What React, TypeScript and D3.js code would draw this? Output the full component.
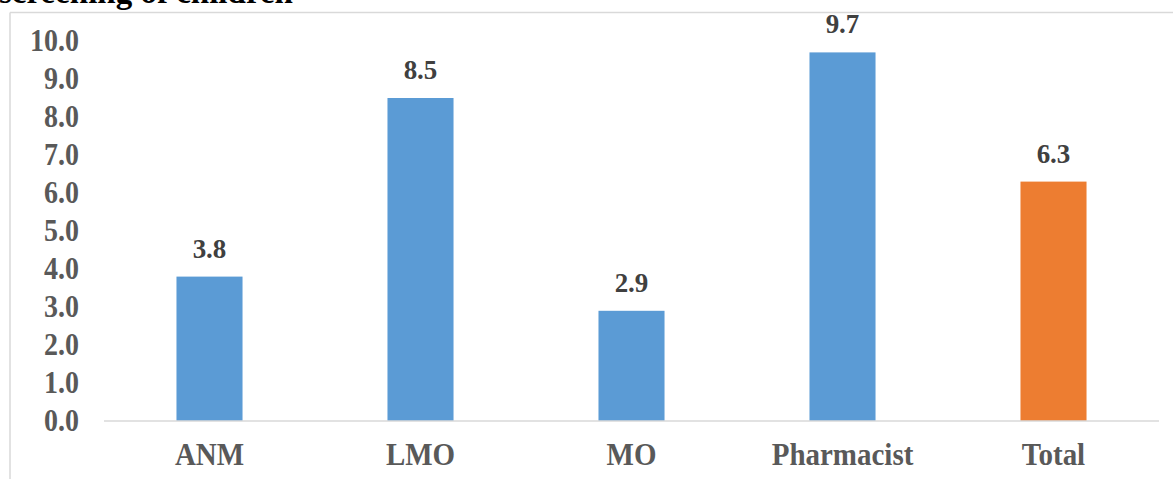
import React from "react";
import * as d3 from "d3";

const categories: string[] = ["ANM", "LMO", "MO", "Pharmacist", "Total"];
const values: number[] = [3.8, 8.5, 2.9, 9.7, 6.3];
const barColors: string[] = ["#5B9BD5", "#5B9BD5", "#5B9BD5", "#5B9BD5", "#ED7D31"];
const yTicks: number[] = [0, 1, 2, 3, 4, 5, 6, 7, 8, 9, 10];
const titleText = "screening of children";

const W = 1173;
const H = 479;
const plotLeft = 104;
const plotRight = 1159;
const plotTop = 41;
const plotBottom = 421;
const serif = "'Liberation Serif', 'Times New Roman', serif";

export default function App() {
  const x = d3.scaleBand<string>().domain(categories).range([plotLeft, plotRight]).padding(0);
  const y = d3.scaleLinear().domain([0, 10]).range([plotBottom, plotTop]);
  const barW = x.bandwidth() * 0.313;
  const fmt = d3.format(".1f");

  return (
    <svg
      width={W}
      height={H}
      style={{ position: "absolute", left: 0, top: 0, background: "#fff" }}
    >
      <text x={-1} y={3} fontFamily={serif} fontWeight="bold" fontSize={33} fill="#000">
        {titleText}
      </text>
      {/* chart frame */}
      <line x1={10} y1={12.5} x2={W} y2={12.5} stroke="#d9d9d9" strokeWidth={1.5} />
      <line x1={10} y1={12.5} x2={10} y2={H} stroke="#d9d9d9" strokeWidth={1.5} />

      {/* y tick labels */}
      {yTicks.map((t) => (
        <text
          key={t}
          transform={`translate(79,${y(t)}) scale(1,1.1)`}
          textAnchor="end"
          dominantBaseline="central"
          fontFamily={serif}
          fontWeight="bold"
          fontSize={28}
          fill="#595959"
        >
          {fmt(t)}
        </text>
      ))}

      {/* bars */}
      {categories.map((c, i) => {
        const cx = (x(c) as number) + x.bandwidth() / 2;
        return (
          <g key={c}>
            <rect
              x={cx - barW / 2}
              y={y(values[i])}
              width={barW}
              height={y(0) - y(values[i])}
              fill={barColors[i]}
            />
            <text
              transform={`translate(${cx},${y(values[i]) - 19}) scale(1,1.05)`}
              textAnchor="middle"
              fontFamily={serif}
              fontWeight="bold"
              fontSize={27}
              fill="#404040"
            >
              {fmt(values[i])}
            </text>
            <text
              transform={`translate(${cx},465) scale(1,1.12)`}
              textAnchor="middle"
              fontFamily={serif}
              fontWeight="bold"
              fontSize={29}
              fill="#595959"
            >
              {c}
            </text>
          </g>
        );
      })}

      {/* category axis */}
      <line x1={plotLeft} y1={y(0)} x2={plotRight} y2={y(0)} stroke="#d9d9d9" strokeWidth={1.5} />
    </svg>
  );
}
